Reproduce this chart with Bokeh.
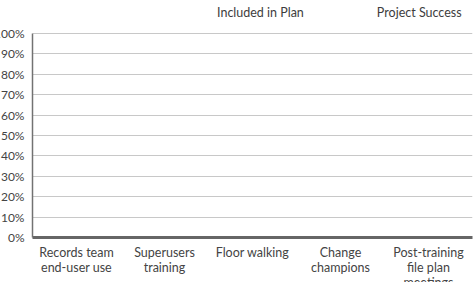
from bokeh.plotting import figure
from bokeh.models import Range1d, FactorRange, NumeralTickFormatter, Legend, LegendItem, FixedTicker, ColumnDataSource
from bokeh.transform import dodge
from bokeh.embed import file_html
from bokeh.resources import INLINE

categories = ["Records team\nend-user use", "Superusers\ntraining", "Floor walking",
              "Change\nchampions", "Post-training\nfile plan\nmeetings"]
included_in_plan = [0, 0, 0, 0, 0]
project_success = [0, 0, 0, 0, 0]
series_names = ["Included in Plan", "Project Success"]
y_ticks = [0, 0.1, 0.2, 0.3, 0.4, 0.5, 0.6, 0.7, 0.8, 0.9, 1.0]

FONT = "Lato"

src = ColumnDataSource(dict(cat=categories, inc=included_in_plan, suc=project_success))

# frame extends to the top of the canvas; 100% sits 33px below it
p = figure(x_range=FactorRange(*categories), y_range=Range1d(0, 237 / 204),
           frame_width=440, frame_height=237,
           output_backend="svg", toolbar_location=None,
           min_border_top=0, min_border_left=0, min_border_right=3, min_border_bottom=0)
p.outline_line_color = None
p.styles = {"margin-left": "-9px"}

r1 = p.vbar(x=dodge("cat", -0.17, range=p.x_range), top="inc", width=0.3, source=src,
            fill_color="#ffffff", fill_alpha=0, line_color=None)
r2 = p.vbar(x=dodge("cat", 0.17, range=p.x_range), top="suc", width=0.3, source=src,
            fill_color="#ffffff", fill_alpha=0, line_color=None)

p.xgrid.grid_line_color = None
p.ygrid.grid_line_color = "#c8c8c8"
p.ygrid.grid_line_width = 1.2
p.yaxis.ticker = FixedTicker(ticks=y_ticks)
p.yaxis.bounds = (0, 1)
p.yaxis.formatter = NumeralTickFormatter(format="0%")
p.yaxis.major_tick_line_color = None
p.yaxis.minor_tick_line_color = None
p.yaxis.axis_line_color = "#727272"
p.yaxis.axis_line_width = 1.5
p.yaxis.major_label_text_font = FONT
p.yaxis.major_label_text_font_size = "12px"
p.yaxis.major_label_text_color = "#444444"
p.yaxis.major_label_standoff = 2

p.xaxis.major_tick_line_color = None
p.xaxis.minor_tick_line_color = None
p.xaxis.axis_line_color = "#666666"
p.xaxis.axis_line_width = 3
p.xaxis.major_label_text_font = FONT
p.xaxis.major_label_text_font_size = "12.5px"
p.xaxis.major_label_text_color = "#444444"
p.xaxis.major_label_text_line_height = 1.02
p.xaxis.major_label_standoff = 1
p.xaxis.group_text_font_size = "0px"

legend = Legend(items=[LegendItem(label=series_names[0], renderers=[r1]),
                       LegendItem(label=series_names[1], renderers=[r2])],
                orientation="horizontal", location=(184, 217),
                glyph_width=1, glyph_height=12, label_standoff=0, spacing=72,
                padding=0, margin=0, border_line_color=None, background_fill_alpha=0,
                label_text_font=FONT, label_text_font_size="12.5px", label_text_color="#3d3d3d")
p.add_layout(legend, "center")

open("out.html", "w").write(file_html(p, INLINE))
